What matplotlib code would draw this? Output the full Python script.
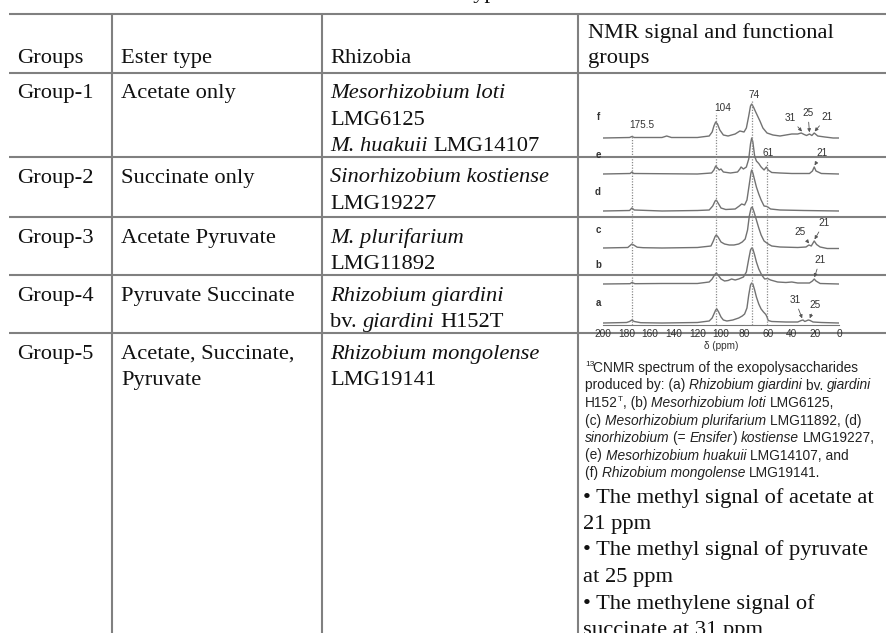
import matplotlib.pyplot as plt
from matplotlib.font_manager import FontProperties

plt.rcParams['font.family'] = ['Liberation Sans', 'DejaVu Sans']

# ---- table content ----
headers = ["Groups", "Ester type", "Rhizobia"]
header_nmr = ["NMR signal and functional", "groups"]
groups = ["Group-1", "Group-2", "Group-3", "Group-4", "Group-5"]
ester_types = [["Acetate only"], ["Succinate only"], ["Acetate Pyruvate"],
               ["Pyruvate Succinate"], ["Acetate, Succinate,", "Pyruvate"]]
rhizobia = [
    [[("Mesorhizobium loti", "italic")], [("LMG6125", "normal")],
     [("M. huakuii", "italic"), (" LMG14107", "normal")]],
    [[("Sinorhizobium kostiense", "italic")], [("LMG19227", "normal")]],
    [[("M. plurifarium", "italic")], [("LMG11892", "normal")]],
    [[("Rhizobium giardini", "italic")],
     [("bv. ", "normal"), ("giardini", "italic"), (" H152T", "normal")]],
    [[("Rhizobium mongolense", "italic")], [("LMG19141", "normal")]],
]
caption = [
    [("CNMR spectrum of the exopolysaccharides", "normal")],
    [("produced by: (a) ", "normal"), ("Rhizobium giardini", "italic"),
     (" bv. ", "normal"), ("giardini", "italic")],
    [("H152", "normal"), ("T", "sup"), (", (b) ", "normal"),
     ("Mesorhizobium loti", "italic"), (" LMG6125,", "normal")],
    [("(c) ", "normal"), ("Mesorhizobium plurifarium", "italic"),
     (" LMG11892, (d)", "normal")],
    [("sinorhizobium", "italic"), (" (= ", "normal"), ("Ensifer", "italic"),
     (") ", "normal"), ("kostiense", "italic"), (" LMG19227,", "normal")],
    [("(e) ", "normal"), ("Mesorhizobium huakuii", "italic"),
     (" LMG14107, and", "normal")],
    [("(f) ", "normal"), ("Rhizobium mongolense", "italic"),
     (" LMG19141.", "normal")],
]
bullets = ["\u2022 The methyl signal of acetate at", "21 ppm",
           "\u2022 The methyl signal of pyruvate", "at 25 ppm",
           "\u2022 The methylene signal of", "succinate at 31 ppm"]

# ---- 13C NMR traces: (ppm, intensity) ----
spec_a = [(200, 0), (180, 0.5), (177.5, 1.5), (175.5, 3), (173.5, 1.5), (168, 0.3),
          (150, 0), (120, 0.5), (110, 2), (107.5, 5), (106, 9), (104.5, 13),
          (103.5, 14), (102, 11), (100, 6), (98, 3), (95, 2), (90, 3), (85, 5),
          (82, 7), (80, 9), (78, 15), (76.5, 28), (75, 38), (74, 40), (73, 39),
          (71.5, 33), (70, 26), (68, 19), (66, 14), (64, 11), (62, 8.5), (61, 6),
          (60, 2.5), (57, 1.5), (45, 1), (35, 1), (32, 2.5), (30.5, 3), (29, 1.5),
          (26, 3), (24.5, 2.5), (22, 1), (15, 0.5), (0, 0)]
spec_b = [(200, 0), (177, 0.3), (175.5, 1.5), (173, 0.3), (150, 0.5), (120, 0.5),
          (110, 2), (107.5, 5), (105.5, 9), (104, 11), (102.5, 9), (100, 5),
          (97, 3), (94, 3.5), (91, 5), (88, 4), (85, 5), (81, 7), (78.5, 12),
          (76.5, 25), (75, 34), (74, 36), (73, 35), (71.5, 29), (70, 22), (68, 15),
          (65.5, 9), (63, 5), (60.5, 5.5), (58, 4), (52, 2), (45, 1.5), (40, 2),
          (35, 1), (25, 1), (22.5, 3), (21, 5), (19.5, 3), (16, 0.5), (0, 0)]
spec_c = [(200, 0), (179, 0.5), (177, 2.5), (175.5, 4), (174, 3), (171, 0.8),
          (166, 0.3), (150, 0), (120, 0.5), (108.5, 2), (106.5, 7), (105, 11.5),
          (104, 13), (102.5, 11), (100, 6), (97, 4), (93, 3), (89, 3), (85, 4),
          (82, 6), (79.5, 9), (77.5, 18), (76, 32), (74.5, 40), (73.5, 41),
          (72, 36), (70, 28), (68, 20), (66, 13), (63.5, 7), (60, 4), (57, 2),
          (50, 1), (35, 0.5), (28, 1), (25.5, 3), (23.5, 2), (21, 7), (19, 3.5),
          (16, 1), (10, -0.5), (0, -0.5)]
spec_d = [(200, 0), (177.5, 0.5), (175.5, 3), (173.5, 1), (150, 0), (120, 0.5),
          (110, 1), (107, 5), (105, 10), (104, 11), (102.5, 8), (100, 3), (96, 1.5),
          (88, 2), (84.5, 5), (82.5, 7), (80, 6), (78, 11), (76, 27), (74.5, 39),
          (74, 41), (73, 38), (71.5, 31), (70, 24), (68, 17), (66, 11), (63.5, 5),
          (61, 4.5), (58, 2), (50, 1), (30, 0.5), (0, 0)]
spec_e = [(200, 0), (177, 0.5), (175.5, 2), (174, 0.5), (120, 0), (108, 1),
          (106, 4), (104.5, 8), (103, 6), (101.5, 4), (100, 5), (98, 2), (92, 1),
          (86, 2), (84, 5), (83, 7), (81, 5), (78.5, 7), (76.5, 15), (75, 30),
          (74, 36), (73, 32), (71.5, 18), (70, 13), (68, 10.5), (66, 7), (63.5, 4),
          (61.5, 7), (60, 4), (57, 1.5), (50, 1), (40, 0.5), (25, 0.5), (22.5, 3),
          (21, 7), (19.5, 3), (15, 0.5), (0, 0)]
spec_f = [(200, 0), (177.5, 0.5), (175.5, 1.5), (173.5, 0.5), (150, 0.5),
          (146, 2), (142, 0.5), (120, 0.5), (110, 2), (107.5, 6), (106, 12),
          (104.5, 16), (103, 14), (101, 8), (98, 3), (94, 2), (88, 4), (84, 7),
          (80.5, 6), (78.5, 10), (76.5, 22), (75, 32), (74, 34), (72.5, 31),
          (71, 27), (69, 22), (67, 17), (64.5, 10), (61, 5), (56, 3), (50, 2),
          (45, 3), (40, 4), (35, 4), (32, 5), (29.5, 3.5), (27.5, 2.5), (25, 4),
          (23, 2.5), (21, 5), (18, 2), (12, 1), (5, 0), (0, 0)]
traces = [spec_a, spec_b, spec_c, spec_d, spec_e, spec_f]
trace_names = ["a", "b", "c", "d", "e", "f"]
ref_ppm = [175.5, 104, 74, 61]
x_ticks = [200, 180, 160, 140, 120, 100, 80, 60, 40, 20, 0]

W, H = 886, 633
fig = plt.figure(figsize=(W / 100, H / 100), dpi=100)
tab = fig.add_axes([0, 0, 1, 1])
tab.set_xlim(0, W)
tab.set_ylim(H, 0)
tab.axis('off')
rend = fig.canvas.get_renderer()

SERIF = 'Liberation Serif'
SANS = 'Liberation Sans'
FS = 16.2          # table text, pt
LINE = 26.6        # table line pitch, px
GRID = '#808080'
INK = '#111111'


def advance(s, family, style, size):
    # pen advance of s, bearings and spaces included
    prop = FontProperties(family=family, style=style, size=size)
    w1 = rend.get_text_width_height_descent('|' + s + '|', prop, ismath=False)[0]
    w0 = rend.get_text_width_height_descent('||', prop, ismath=False)[0]
    return w1 - w0


def put_runs(x, y, runs, size, family, color=INK):
    for s, st in runs:
        if st == 'sup':
            tab.text(x, y - size * 0.62, s, fontsize=size * 0.6, family=family,
                     va='baseline', color=color)
            x += advance(s, family, 'normal', size * 0.6)
            continue
        core = s.lstrip(' ')
        x += advance(s[:len(s) - len(core)], family, st, size)
        tab.text(x, y, core, fontsize=size, family=family, style=st,
                 va='baseline', color=color)
        x += advance(core, family, st, size)
    return x


# table rules
row_lines = [14, 72.5, 157, 217, 275, 333]
col_lines = [112, 322, 578.5]
for yy in row_lines:
    tab.plot([9, W], [yy, yy], color=GRID, lw=1.5, solid_capstyle='butt')
for xx in col_lines:
    tab.plot([xx, xx], [row_lines[0], H], color=GRID, lw=1.5, solid_capstyle='butt')

# caption line above the table, only its descenders fall inside the page
tab.text(506, -2, "Classification on the basis of ester type", family=SERIF,
         fontsize=FS, ha='right', va='baseline', color=INK)

col_x = [17, 121.5, 330.5, 588]
for cx, h in zip(col_x, headers):
    tab.text(cx, 63, h, family=SERIF, fontsize=FS, va='baseline', color=INK)
tab.text(col_x[3], 38, header_nmr[0], family=SERIF, fontsize=FS, va='baseline', color=INK)
tab.text(col_x[3], 63, header_nmr[1], family=SERIF, fontsize=FS, va='baseline', color=INK)

for i, g in enumerate(groups):
    y0 = row_lines[i + 1] + 25.5
    tab.text(col_x[0], y0, g, family=SERIF, fontsize=FS, va='baseline', color=INK)
    for k, line in enumerate(ester_types[i]):
        tab.text(col_x[1], y0 + k * LINE, line, family=SERIF, fontsize=FS,
                 va='baseline', color=INK)
    for k, line in enumerate(rhizobia[i]):
        put_runs(col_x[2], y0 + k * LINE, line, FS, SERIF)

# figure caption under the spectra
CAP = 9.9
cap_y = [372, 389.5, 407, 424.5, 442, 459.5, 477]
tab.text(585, cap_y[0] - 6, "13", fontsize=6, va='baseline', color='#222222')
for k, line in enumerate(caption):
    x0 = 593 if k == 0 else 585
    put_runs(x0, cap_y[k], line, CAP, SANS, color='#222222')

bul_y = [502.5, 529, 555.5, 582, 608.5, 635]
for yy, line in zip(bul_y, bullets):
    tab.text(583, yy, line, family=SERIF, fontsize=FS, va='baseline', color=INK)

# ---- spectra panel ----
x_l, x_r, y_base, y_top = 603, 839, 324.5, 87
y_lo = -1.5
sp = fig.add_axes([x_l / W, (H - y_base) / H, (x_r - x_l) / W, (y_base - y_top) / H])
sp.patch.set_visible(False)
sp.set_xlim(200, 0)
sp.set_ylim(y_lo, y_lo + (y_base - y_top))
offsets = [0, 39, 75, 112, 149, 185]
for spec, off in zip(traces, offsets):
    sp.plot([p for p, v in spec], [off + v for p, v in spec], color='#727272',
            lw=1.0, solid_joinstyle='round')

ref_top = [188, 210, 223, 163]
for p, top in zip(ref_ppm, ref_top):
    sp.plot([p, p], [y_lo, top], color='#8a8a8a', lw=0.9, ls=(0, (1, 1.2)))

for name, yy in zip(trace_names, [20, 58, 93, 131, 168, 206]):
    sp.text(204.2, yy, name, fontsize=7, fontweight='bold', ha='center', va='center',
            color='#333333', clip_on=False)

lab_kw = dict(fontsize=7.2, ha='center', va='center', color='#333333')
sp.text(166.9, 198, "175.5", **lab_kw)
sp.text(98.3, 215, "104", **lab_kw)
sp.text(72, 228, "74", **lab_kw)
sp.text(60.2, 170, "61", **lab_kw)

arrow_kw = dict(arrowstyle='-|>', color='#555555', lw=0.6, mutation_scale=5,
                shrinkA=1, shrinkB=0.5)
# (label, target ppm, trace offset, peak height, label x ppm, label y)
peak_marks = [("31", 31, 185, 5, 41.5, 205), ("25", 25, 185, 4, 26.3, 210),
              ("21", 21, 185, 5, 10.2, 206), ("21", 21, 149, 7, 14.4, 170),
              ("25", 25, 75, 3, 33.0, 91), ("21", 21, 75, 7, 12.7, 100),
              ("21", 21, 39, 5, 16.1, 63), ("31", 31, 0, 3, 37.3, 23),
              ("25", 25, 0, 3, 20.3, 18)]
for txt, p, off, hgt, lx, ly in peak_marks:
    sp.annotate(txt, xy=(p, off + hgt + 1), xytext=(lx, ly), arrowprops=arrow_kw,
                **lab_kw)

for s in ['top', 'left', 'right']:
    sp.spines[s].set_visible(False)
sp.spines['bottom'].set_color('#777777')
sp.spines['bottom'].set_linewidth(0.8)
sp.set_yticks([])
sp.set_xticks(x_ticks)
sp.tick_params(axis='x', length=0, labelsize=7.3, pad=3, colors='#333333')
sp.set_xlabel("\u03b4 (ppm)", fontsize=7.2, labelpad=1.5, color='#333333')

fig.savefig("out.png", dpi=100)
